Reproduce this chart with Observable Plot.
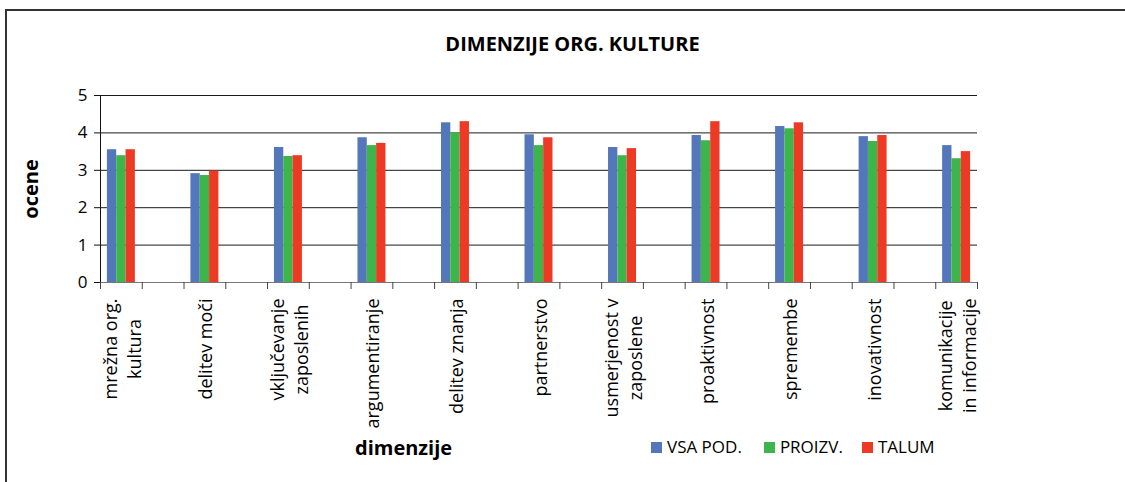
<!DOCTYPE html>
<html>
<head>
<meta charset="utf-8">
<script src="https://cdn.jsdelivr.net/npm/d3@7"></script>
<script src="https://cdn.jsdelivr.net/npm/@observablehq/plot@0.6"></script>
<style>
  html, body { margin: 0; padding: 0; background: #fff; }
  #wrap { position: relative; width: 1125px; height: 482px; overflow: hidden; font-family: "Open Sans", sans-serif; color: #000; }
  #frame { position: absolute; left: 5px; top: 9px; width: 1300px; height: 700px; border-left: 2px solid #333; border-top: 2px solid #333; }
  #chart { position: absolute; left: 0; top: 0; }
  #title { position: absolute; left: 0; width: 1145px; top: 31px; text-align: center; font-weight: bold; font-size: 20px; line-height: 26px; white-space: nowrap; }
  #xlabel { position: absolute; left: 355px; top: 435px; font-weight: bold; font-size: 20px; line-height: 26px; }
  #legend { position: absolute; left: 651px; top: 436px; display: flex; align-items: center; font-size: 17px; line-height: 22px; white-space: nowrap; }
  #legend .item { display: flex; align-items: center; }
  #legend .sw { width: 11px; height: 11px; margin-right: 5px; }
</style>
</head>
<body>
<div id="wrap">
  <div id="frame"></div>
  <div id="chart"></div>
  <div id="title">DIMENZIJE ORG. KULTURE</div>
  <div id="xlabel">dimenzije</div>
  <div id="legend"></div>
</div>
<script>
// ---- data ----
const categories = [
  "mrežna org.\nkultura",
  "delitev moči",
  "vključevanje\nzaposlenih",
  "argumentiranje",
  "delitev znanja",
  "partnerstvo",
  "usmerjenost v\nzaposlene",
  "proaktivnost",
  "spremembe",
  "inovativnost",
  "komunikacije\nin informacije"
];
const series = ["VSA POD.", "PROIZV.", "TALUM"];
const vsaPod = [3.55, 2.91, 3.61, 3.87, 4.27, 3.95, 3.61, 3.93, 4.17, 3.90, 3.66];
const proizv = [3.39, 2.86, 3.37, 3.66, 4.01, 3.66, 3.39, 3.79, 4.11, 3.77, 3.31];
const talum  = [3.55, 2.98, 3.39, 3.72, 4.30, 3.87, 3.58, 4.30, 4.27, 3.93, 3.50];
const colors = ["#5377ba", "#3db54a", "#ec3a25"];
const yTicks = [0, 1, 2, 3, 4, 5];

// ---- table built from the arrays ----
// each category occupies one slot, followed by an empty slot (as in the source chart)
const slots = categories.length * 2 - 1;
const barW = 0.2233;               // bar width as a fraction of one slot
const sideGap = (1 - 3 * barW) / 2;
const valuesBySeries = [vsaPod, proizv, talum];
const rows = [];
categories.forEach((c, i) => {
  series.forEach((s, k) => {
    const x1 = 2 * i + sideGap + k * barW;
    rows.push({category: c, series: s, value: valuesBySeries[k][i], x1, x2: x1 + barW});
  });
});

// measure category labels so multi-line labels are centred line by line,
// with the block's top just below the axis
const labelFont = 18;
const ctx = document.createElement("canvas").getContext("2d");
ctx.font = `${labelFont}px "Open Sans"`;
const blockLen = c => Math.max(...c.split("\n").map(l => ctx.measureText(l).width));

const labelMarks = categories.map((c, i) => Plot.text([c], {
  x: 2 * i + 0.5,
  frameAnchor: "bottom",
  rotate: -90,
  textAnchor: "middle",
  lineAnchor: "middle",
  lineHeight: 1.3,
  dy: 16 + blockLen(c) / 2,
  fontSize: labelFont,
  fill: "#000"
}));

const chart = Plot.plot({
  width: 1125,
  height: 482,
  marginLeft: 100,
  marginRight: 148,
  marginTop: 95,
  marginBottom: 200,
  style: {fontFamily: "Open Sans", fontSize: "17px", color: "#000", background: "transparent"},
  x: {domain: [0, slots], axis: null},
  y: {domain: [0, 5], axis: null},
  color: {domain: series, range: colors},
  marks: [
    Plot.ruleY(yTicks.filter(d => d > 0), {stroke: "#1a1a1a", strokeWidth: 1}),
    Plot.rectY(rows, {x1: "x1", x2: "x2", y1: 0, y2: "value", fill: "series"}),
    Plot.ruleY([0], {stroke: "#777", strokeWidth: 1.2}),
    Plot.ruleX([0], {stroke: "#111", strokeWidth: 1}),
    Plot.axisY({ticks: yTicks, tickFormat: d3.format("d"), tickSize: 6, tickPadding: 7, label: null, fontSize: 17, stroke: "#111"}),
    Plot.axisX({ticks: d3.range(slots + 1), tickSize: 7, tickFormat: () => "", label: null, stroke: "#444"}),
    ...labelMarks,
    Plot.text(["ocene"], {
      frameAnchor: "left",
      textAnchor: "middle",
      dx: -69,
      dy: 0,
      rotate: -90,
      fontWeight: "bold",
      fontSize: 20,
      fill: "#000"
    })
  ]
});
document.getElementById("chart").appendChild(chart);

// legend in HTML
const legend = document.getElementById("legend");
const gaps = [22, 19, 0];
series.forEach((s, k) => {
  const item = document.createElement("div");
  item.className = "item";
  item.style.marginRight = gaps[k] + "px";
  const sw = document.createElement("div");
  sw.className = "sw";
  sw.style.background = colors[k];
  const t = document.createElement("span");
  t.textContent = s;
  item.appendChild(sw);
  item.appendChild(t);
  legend.appendChild(item);
});
</script>
</body>
</html>
